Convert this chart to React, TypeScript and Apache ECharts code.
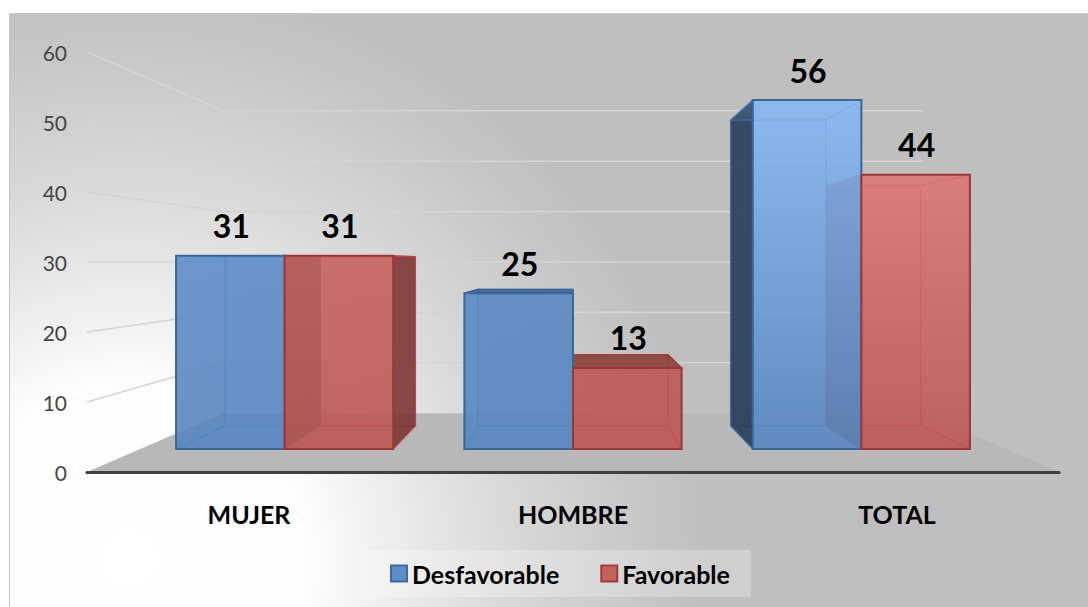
import React, { useEffect, useRef } from "react";
import * as echarts from "echarts";

const categories = ["MUJER", "HOMBRE", "TOTAL"];
const desfavorable = [31, 25, 56];
const favorable = [31, 13, 44];
const valueTicks = [0, 10, 20, 30, 40, 50, 60];

const FONT = "Lato";
const AXIS_MAX = 60;

// Perspective depths: 1 is the axis plane, smaller values recede toward the vanishing point.
const WALL_DEPTH = 0.72;
const BAR_FRONT = 0.89;
const BAR_BACK = 0.78;
const BAR_BAND_SHARE = 0.3765;

type Rgb = [number, number, number];
const rgba = (c: Rgb, a: number) => `rgba(${c[0]},${c[1]},${c[2]},${a})`;
const mix = (a: Rgb, b: Rgb, t: number): Rgb =>
  [0, 1, 2].map((i) => Math.round(a[i] + (b[i] - a[i]) * t)) as Rgb;

type Palette = {
  base: Rgb;
  bright: Rgb;
  edge: string;
  innerEdge: string;
  sideDark: Rgb;
  topDark: Rgb;
};

const bluePalette: Palette = {
  base: [88, 134, 190],
  bright: [136, 184, 244],
  edge: "#386798",
  innerEdge: "rgba(70,120,185,0.8)",
  sideDark: [34, 54, 82],
  topDark: [62, 100, 148],
};
const redPalette: Palette = {
  base: [188, 88, 85],
  bright: [252, 152, 146],
  edge: "#9a3836",
  innerEdge: "rgba(190,72,70,0.8)",
  sideDark: [120, 52, 52],
  topDark: [140, 66, 62],
};

const vanishing = (api: any) => {
  const cs = api.coord([1, 30]);
  return { vx: cs[0], vy: cs[1] };
};

// Draws one translucent perspective box from a category index and a value.
const boxRenderer = (palette: Palette, side: -1 | 1) => (_params: any, api: any) => {
  const catIndex = api.value(0);
  const value = api.value(1);
  const { vx, vy } = vanishing(api);
  const band = api.size([1, 0])[0];
  const centre = api.coord([catIndex, 0])[0];
  const inner = centre;
  const outer = centre + side * band * BAR_BAND_SHARE;
  const xl = Math.min(inner, outer);
  const xr = Math.max(inner, outer);
  const y0 = api.coord([catIndex, 0])[1];
  const y1 = api.coord([catIndex, value])[1];
  const p = (x: number, y: number, s: number) => [vx + s * (x - vx), vy + s * (y - vy)];

  const fbl = p(xl, y0, BAR_FRONT);
  const fbr = p(xr, y0, BAR_FRONT);
  const ftl = p(xl, y1, BAR_FRONT);
  const ftr = p(xr, y1, BAR_FRONT);
  const bbl = p(xl, y0, BAR_BACK);
  const bbr = p(xr, y0, BAR_BACK);
  const btl = p(xl, y1, BAR_BACK);
  const btr = p(xr, y1, BAR_BACK);

  const lift = Math.pow(value / 56, 3);
  const topColor = mix(palette.base, palette.bright, lift);
  const vertical = (a: number) => ({
    type: "linear",
    x: 0,
    y: 0,
    x2: 0,
    y2: 1,
    colorStops: [
      { offset: 0, color: rgba(topColor, a) },
      { offset: 1, color: rgba(palette.base, a) },
    ],
  });

  const innerFace = (points: number[][]) => ({
    type: "polygon",
    z2: 1,
    shape: { points },
    style: { fill: vertical(0.3), stroke: palette.innerEdge, lineWidth: 1.2 },
  });
  // A side faces the viewer when it sits on the far side of the box from the vanishing point.
  const sideFace = (x: number, points: number[][]) => {
    const offset = x - vx;
    const facing = x === xl ? offset > 1 : offset < -1;
    const dark = facing && Math.abs(offset) > 100;
    return {
      type: "polygon",
      z2: facing ? 3 : 2,
      shape: { points },
      style: {
        fill: dark ? rgba(palette.sideDark, 0.85) : vertical(facing ? 0.5 : 0.22),
        stroke: palette.innerEdge,
        lineWidth: 1.2,
      },
    };
  };
  const topVisible = y1 > vy;
  const top = {
    type: "polygon",
    z2: 4,
    shape: { points: [ftl, ftr, btr, btl] },
    style: {
      fill: topVisible ? rgba(palette.topDark, 0.9) : vertical(0.15),
      stroke: topVisible ? palette.edge : palette.innerEdge,
      lineWidth: 1.2,
    },
  };
  const front = {
    type: "polygon",
    z2: 10,
    shape: { points: [ftl, ftr, fbr, fbl] },
    style: { fill: vertical(0.88), stroke: palette.edge, lineWidth: 2 },
  };
  const label = {
    type: "text",
    z2: 20,
    x: (ftl[0] + ftr[0]) / 2 + 1,
    y: ftl[1] - 30,
    style: {
      text: String(value),
      fill: "#000000",
      fontFamily: FONT,
      fontWeight: "bold",
      fontSize: 32,
      align: "center",
      verticalAlign: "middle",
    },
  };

  return {
    type: "group",
    children: [
      innerFace([btl, btr, bbr, bbl]),
      innerFace([bbl, bbr, fbr, fbl]),
      sideFace(xl, [ftl, btl, bbl, fbl]),
      sideFace(xr, [ftr, btr, bbr, fbr]),
      top,
      front,
      label,
    ],
  };
};

// Gridlines on the left and back walls, one per axis tick.
const wallRenderer = (params: any, api: any) => {
  const value = api.value(0);
  const cs = params.coordSys;
  const { vx, vy } = vanishing(api);
  const y = api.coord([0, value])[1];
  const p = (x: number, s: number) => [vx + s * (x - vx), vy + s * (y - vy)];
  const left = p(cs.x, 1);
  const backLeft = p(cs.x, WALL_DEPTH);
  const backRight = p(cs.x + cs.width, WALL_DEPTH);
  return {
    type: "polyline",
    shape: { points: [left, backLeft, backRight] },
    style: { fill: "none", stroke: "#d4d4d4", lineWidth: 1.6 },
  };
};

// Floor trapezoid between the axis plane and the back wall.
const floorRenderer = (params: any, api: any) => {
  const cs = params.coordSys;
  const { vx, vy } = vanishing(api);
  const y = api.coord([0, 0])[1];
  const p = (x: number, s: number) => [vx + s * (x - vx), vy + s * (y - vy)];
  return {
    type: "polygon",
    shape: {
      points: [p(cs.x, 1), p(cs.x + cs.width, 1), p(cs.x + cs.width, WALL_DEPTH), p(cs.x, WALL_DEPTH)],
    },
    style: { fill: "#b8b8b8" },
  };
};

export default function App() {
  const ref = useRef<HTMLDivElement>(null);

  useEffect(() => {
    if (!ref.current) return;
    document.body.style.margin = "0";
    const chart = echarts.init(ref.current, undefined, { renderer: "svg" });
    chart.setOption({
      animation: false,
      backgroundColor: "#ffffff",
      tooltip: { show: false },
      graphic: [
        {
          type: "rect",
          z: -10,
          silent: true,
          shape: { x: 9.5, y: 13.5, width: 1100, height: 620 },
          style: {
            fill: {
              type: "radial",
              x: 130,
              y: 560,
              r: 660,
              global: true,
              colorStops: [
                { offset: 0, color: "#ffffff" },
                { offset: 0.27, color: "#fdfdfd" },
                { offset: 0.46, color: "#e5e5e5" },
                { offset: 0.6, color: "#d6d6d6" },
                { offset: 0.87, color: "#bfbfbf" },
                { offset: 1, color: "#bfbfbf" },
              ],
            },
            stroke: "#c9c9c9",
            lineWidth: 1,
          },
        },
      ],
      grid: { left: 87, top: 52, width: 972, height: 420, containLabel: false },
      xAxis: {
        type: "category",
        data: categories,
        z: 5,
        axisTick: { show: false },
        axisLine: { show: true, lineStyle: { color: "#404040", width: 3 } },
        axisLabel: {
          margin: 29,
          color: "#000000",
          fontFamily: FONT,
          fontWeight: "bold",
          fontSize: 25,
        },
      },
      yAxis: {
        type: "value",
        min: 0,
        max: AXIS_MAX,
        interval: 10,
        splitLine: { show: false },
        axisLine: { show: false },
        axisTick: { show: false },
        axisLabel: { margin: 20, color: "#454545", fontFamily: FONT, fontSize: 21 },
      },
      legend: {
        left: 360,
        top: 550,
        icon: "rect",
        itemWidth: 16,
        itemHeight: 16,
        itemGap: 41,
        padding: [11, 21, 11, 30],
        backgroundColor: "rgba(255,255,255,0.25)",
        selectedMode: false,
        data: ["Desfavorable", "Favorable"],
        textStyle: { color: "#000000", fontFamily: FONT, fontWeight: "bold", fontSize: 25 },
      },
      series: [
        {
          type: "custom",
          name: "floor",
          silent: true,
          z: 1,
          coordinateSystem: "cartesian2d",
          data: [[0]],
          renderItem: floorRenderer,
          clip: false,
        },
        {
          type: "custom",
          name: "walls",
          silent: true,
          z: 1,
          coordinateSystem: "cartesian2d",
          encode: { y: 0 },
          data: valueTicks.slice(1).map((t) => [t]),
          renderItem: wallRenderer,
          clip: false,
        },
        {
          type: "custom",
          name: "Desfavorable",
          silent: true,
          z: 2,
          coordinateSystem: "cartesian2d",
          itemStyle: { color: "#5f8dc8", borderColor: "#3b6ca3", borderWidth: 1.5 },
          encode: { x: 0, y: 1 },
          data: desfavorable.map((v, i) => [i, v]),
          renderItem: boxRenderer(bluePalette, -1),
          clip: false,
        },
        {
          type: "custom",
          name: "Favorable",
          silent: true,
          z: 2,
          coordinateSystem: "cartesian2d",
          itemStyle: { color: "#c4605d", borderColor: "#a23c3a", borderWidth: 1.5 },
          encode: { x: 0, y: 1 },
          data: favorable.map((v, i) => [i, v]),
          renderItem: boxRenderer(redPalette, 1),
          clip: false,
        },
      ],
    });
    return () => chart.dispose();
  }, []);

  return <div ref={ref} style={{ width: 1088, height: 607 }} />;
}
